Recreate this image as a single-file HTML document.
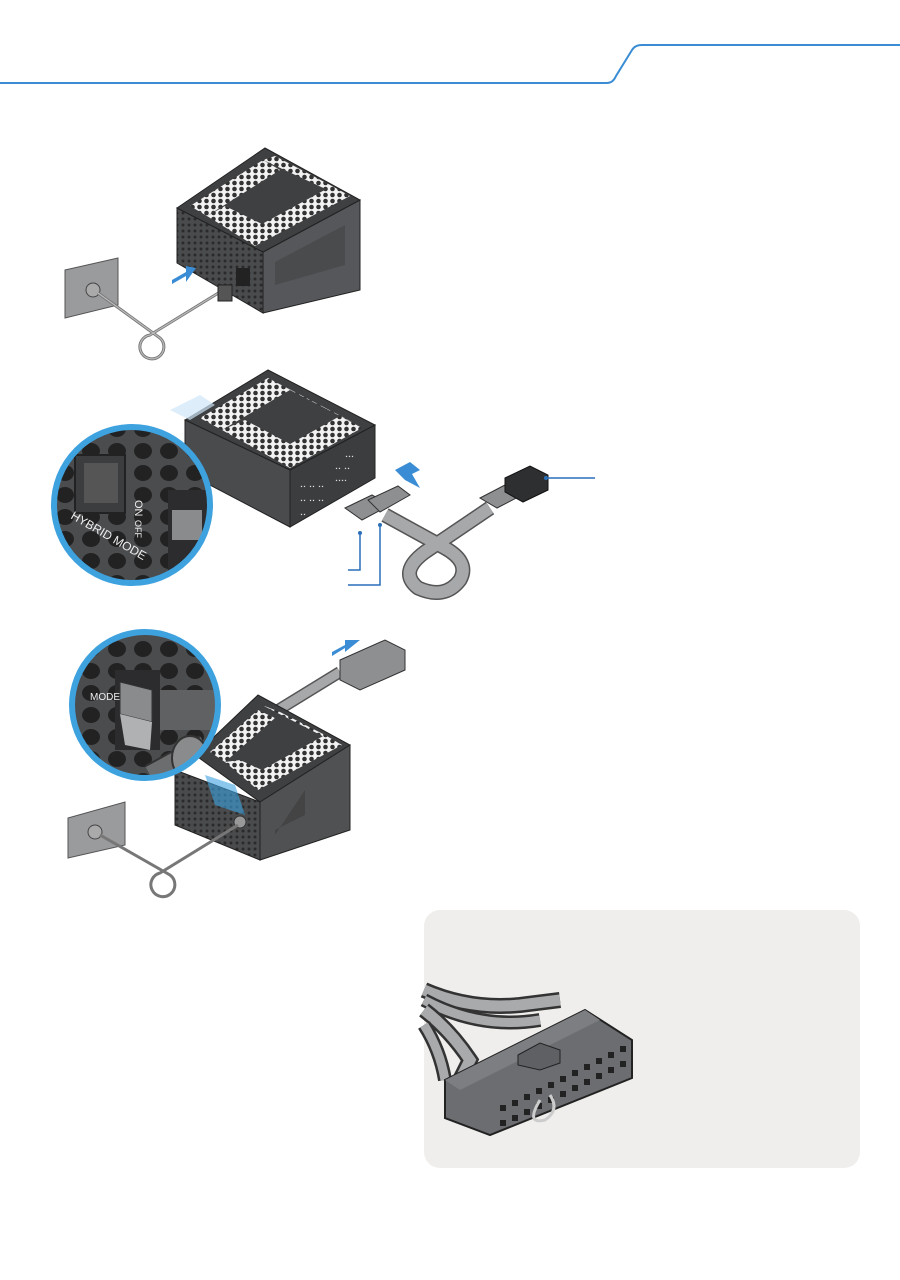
<!DOCTYPE html>
<html><head><meta charset="utf-8"><style>
html,body{margin:0;padding:0;background:#fff;width:900px;height:1280px;overflow:hidden}
svg{display:block}
</style></head><body>
<svg width="900" height="1280" viewBox="0 0 900 1280" xmlns="http://www.w3.org/2000/svg">
<defs>
<pattern id="hex" width="7" height="6" patternUnits="userSpaceOnUse">
<rect width="7" height="6" fill="#f2f2f2"/><circle cx="3.5" cy="3" r="2.3" fill="#333"/>
</pattern>
<pattern id="dk" width="6" height="6" patternUnits="userSpaceOnUse">
<rect width="6" height="6" fill="#4a4b4d"/><circle cx="3" cy="3" r="1.5" fill="#2a2a2b"/>
</pattern>
<pattern id="bighex" width="26" height="22" patternUnits="userSpaceOnUse">
<rect width="26" height="22" fill="#4b4c4e"/><ellipse cx="13" cy="11" rx="9" ry="8" fill="#222"/>
</pattern>
<clipPath id="c1"><circle cx="132" cy="505" r="78"/></clipPath>
<clipPath id="c2"><circle cx="145" cy="705" r="73"/></clipPath>
</defs>

<path d="M0 83 H607 Q613 83 616 76 L632 50 Q635 45 642 45 H900" fill="none" stroke="#3a8dd4" stroke-width="2"/>

<!-- PSU 1 -->
<polygon points="65,270 118,258 118,305 65,318" fill="#9a9b9d" stroke="#555" stroke-width="1"/>
<circle cx="93" cy="290" r="7" fill="#aaa" stroke="#444"/>
<path d="M98 293 L160 338 A12 12 0 1 1 150 335 L220 292" fill="none" stroke="#777" stroke-width="3"/>
<path d="M98 293 L160 338 A12 12 0 1 1 150 335 L220 292" fill="none" stroke="#bbb" stroke-width="1.2"/>
<polygon points="177,208 263,252 263,313 177,263" fill="url(#dk)" stroke="#222"/>
<polygon points="263,252 360,200 360,290 263,313" fill="#55575a" stroke="#222"/>
<polygon points="275,262 345,225 345,265 275,285" fill="#4a4b4d"/>
<polygon points="177,208 265,148 360,200 263,252" fill="#3f4042" stroke="#222"/>
<polygon points="190,206 263,160 280,170 207,216" fill="url(#hex)"/>
<polygon points="207,216 255,246 350,196 332,186 262,224 225,206" fill="url(#hex)"/>
<polygon points="263,160 345,198 332,186 275,156" fill="url(#hex)"/>
<rect x="236" y="268" width="14" height="18" fill="#222"/>
<rect x="218" y="285" width="14" height="16" fill="#555" stroke="#222"/>
<polygon points="172,280 186,272 186,266 196,268 186,282 186,276 172,284" fill="#3a8dd4"/>

<!-- PSU 2 -->
<polygon points="185,420 268,370 375,425 290,470" fill="#3f4042" stroke="#222"/>
<polygon points="200,418 268,378 290,390 222,430" fill="url(#hex)"/>
<polygon points="222,430 290,468 362,428 340,416 290,444 245,420" fill="url(#hex)"/>
<polygon points="268,378 360,426 340,416 290,390" fill="url(#hex)"/>
<polygon points="185,420 290,470 290,527 185,472" fill="#4a4b4d" stroke="#222"/>
<polygon points="290,470 375,425 375,478 290,527" fill="#3c3d3f" stroke="#222"/>
<g fill="#ddd" font-size="5" font-family="Liberation Mono,monospace">
<text x="300" y="488">▪▪ ▪▪ ▪▪</text><text x="300" y="502">▪▪ ▪▪ ▪▪</text><text x="300" y="516">▪▪</text>
<text x="335" y="470">▪▪ ▪▪</text><text x="335" y="482">▪▪▪▪</text><text x="345" y="458">▪▪▪</text>
</g>
<polygon points="170,410 200,395 215,405 190,420" fill="#cfe6f6" opacity="0.7"/>
<g clip-path="url(#c1)">
<rect x="50" y="420" width="170" height="170" fill="url(#bighex)"/>
<rect x="75" y="455" width="50" height="58" fill="#3c3d3f" stroke="#222" stroke-width="2"/>
<rect x="84" y="463" width="34" height="40" fill="#555"/>
<rect x="168" y="490" width="40" height="90" fill="#2c2c2e"/>
<rect x="172" y="510" width="30" height="30" fill="#8a8b8d"/>
<text x="135" y="500" font-size="11" fill="#eee" font-family="Liberation Sans,sans-serif" transform="rotate(90 135 500)">ON</text>
<text x="135" y="520" font-size="9" fill="#eee" font-family="Liberation Sans,sans-serif" transform="rotate(90 135 520)">OFF</text>
<text x="70" y="518" font-size="12" fill="#eee" font-family="Liberation Sans,sans-serif" transform="rotate(30 70 518)">HYBRID MODE</text>
</g>
<circle cx="132" cy="505" r="78" fill="none" stroke="#3ea2df" stroke-width="6"/>
<path d="M385 515 L445 548 Q470 562 460 580 Q445 600 418 588 Q398 572 425 552 L490 508" fill="none" stroke="#555" stroke-width="15" stroke-linejoin="round"/>
<path d="M385 515 L445 548 Q470 562 460 580 Q445 600 418 588 Q398 572 425 552 L490 508" fill="none" stroke="#a6a8aa" stroke-width="12" stroke-linejoin="round"/>
<polygon points="345,508 372,495 390,505 362,520" fill="#8d8f91" stroke="#333"/>
<polygon points="368,500 398,486 410,495 380,512" fill="#8d8f91" stroke="#333"/>
<polygon points="480,498 505,485 522,495 497,508" fill="#8d8f91" stroke="#333"/>
<polygon points="505,478 530,466 548,475 548,490 523,502 505,492" fill="#2e2f31" stroke="#111"/>
<polygon points="395,470 410,462 420,470 412,474 420,488 405,480" fill="#3a8dd4"/>
<line x1="548" y1="478" x2="595" y2="478" stroke="#2a6fb8" stroke-width="1.5"/><circle cx="546" cy="478" r="2" fill="#2a6fb8"/>
<polyline points="360,535 360,570 348,570" fill="none" stroke="#2a6fb8" stroke-width="1.5"/><circle cx="360" cy="533" r="2" fill="#2a6fb8"/>
<polyline points="380,527 380,585 348,585" fill="none" stroke="#2a6fb8" stroke-width="1.5"/><circle cx="380" cy="525" r="2" fill="#2a6fb8"/>

<!-- PSU 3 -->
<path d="M270 715 L340 672" stroke="#555" stroke-width="12"/>
<path d="M270 715 L340 672" stroke="#a6a8aa" stroke-width="9"/>
<polygon points="340,660 385,640 405,650 405,670 360,690 340,680" fill="#8d8f91" stroke="#333"/>
<polygon points="332,652 345,645 345,640 360,640 345,652 345,648 332,656" fill="#3a8dd4"/>
<polygon points="195,755 258,695 350,745 260,802" fill="#3f4042" stroke="#222"/>
<polygon points="210,752 258,710 275,718 225,762" fill="url(#hex)"/>
<polygon points="225,762 258,790 342,745 325,735 262,770 240,760" fill="url(#hex)"/>
<polygon points="262,705 340,745 325,735 280,712" fill="url(#hex)"/>
<polygon points="175,770 260,802 260,860 175,825" fill="url(#dk)" stroke="#222"/>
<polygon points="260,802 350,745 350,830 260,860" fill="#4f5153" stroke="#222"/>
<polygon points="275,835 305,790 305,815 275,830" fill="#444"/>
<polygon points="205,775 235,785 245,815 215,805" fill="#3ea2df" opacity="0.6"/>
<circle cx="240" cy="822" r="6" fill="#999" stroke="#333"/>
<polygon points="68,818 125,802 125,845 68,858" fill="#9a9b9d" stroke="#555"/>
<circle cx="95" cy="832" r="7" fill="#aaa" stroke="#444"/>
<path d="M100 835 L170 875 A12 12 0 1 1 160 873 L238 825" fill="none" stroke="#777" stroke-width="3"/>
<g clip-path="url(#c2)">
<rect x="60" y="620" width="170" height="170" fill="url(#bighex)"/>
<rect x="115" y="670" width="45" height="80" fill="#2c2c2e"/>
<polygon points="120,682 152,690 152,722 120,714" fill="#8a8b8d" stroke="#333"/>
<polygon points="120,714 152,722 150,750 125,745" fill="#b0b1b3"/>
<rect x="160" y="690" width="80" height="40" fill="#606163"/>
<path d="M150 775 L205 745" stroke="#333" stroke-width="22"/>
<path d="M150 775 L205 745" stroke="#6c6d6f" stroke-width="18"/>
<ellipse cx="190" cy="758" rx="18" ry="22" fill="#8a8b8d" stroke="#333" stroke-width="2"/>
<text x="90" y="700" font-size="10" fill="#eee" font-family="Liberation Sans,sans-serif">MODE</text>
</g>
<circle cx="145" cy="705" r="73" fill="none" stroke="#3ea2df" stroke-width="6"/>

<!-- gray box -->
<rect x="424" y="910" width="436" height="258" rx="16" fill="#efeeec"/>
<path d="M424 990 Q470 1010 520 1005 L560 1000" fill="none" stroke="#333" stroke-width="16"/>
<path d="M424 990 Q470 1010 520 1005 L560 1000" fill="none" stroke="#a8aaac" stroke-width="11"/>
<path d="M424 1000 Q480 1030 540 1020" fill="none" stroke="#333" stroke-width="14"/>
<path d="M424 1000 Q480 1030 540 1020" fill="none" stroke="#a8aaac" stroke-width="9"/>
<path d="M424 1010 Q450 1030 470 1060 L460 1080" fill="none" stroke="#333" stroke-width="16"/>
<path d="M424 1010 Q450 1030 470 1060 L460 1080" fill="none" stroke="#a8aaac" stroke-width="11"/>
<path d="M424 1025 Q440 1050 445 1080" fill="none" stroke="#333" stroke-width="14"/>
<path d="M424 1025 Q440 1050 445 1080" fill="none" stroke="#a8aaac" stroke-width="9"/>
<polygon points="445,1080 585,1010 632,1040 632,1078 490,1135 445,1118" fill="#6b6d70" stroke="#222" stroke-width="2"/>
<polygon points="445,1080 585,1010 600,1020 460,1090" fill="#7c7e81"/>
<polygon points="518,1055 540,1043 560,1050 560,1063 540,1070 518,1065" fill="#5e6063" stroke="#222"/>
<g fill="#222">
<rect x="500" y="1105" width="6" height="6"/><rect x="512" y="1100" width="6" height="6"/><rect x="524" y="1094" width="6" height="6"/><rect x="536" y="1088" width="6" height="6"/><rect x="548" y="1082" width="6" height="6"/><rect x="560" y="1076" width="6" height="6"/><rect x="572" y="1070" width="6" height="6"/><rect x="584" y="1064" width="6" height="6"/><rect x="596" y="1058" width="6" height="6"/><rect x="608" y="1052" width="6" height="6"/><rect x="620" y="1046" width="6" height="6"/>
<rect x="500" y="1120" width="6" height="6"/><rect x="512" y="1115" width="6" height="6"/><rect x="524" y="1109" width="6" height="6"/><rect x="536" y="1103" width="6" height="6"/><rect x="548" y="1097" width="6" height="6"/><rect x="560" y="1091" width="6" height="6"/><rect x="572" y="1085" width="6" height="6"/><rect x="584" y="1079" width="6" height="6"/><rect x="596" y="1073" width="6" height="6"/><rect x="608" y="1067" width="6" height="6"/><rect x="620" y="1061" width="6" height="6"/>
</g>
<path d="M540 1100 Q525 1125 545 1120 Q560 1110 550 1095" fill="none" stroke="#ccc" stroke-width="3"/>
</svg>
</body></html>
